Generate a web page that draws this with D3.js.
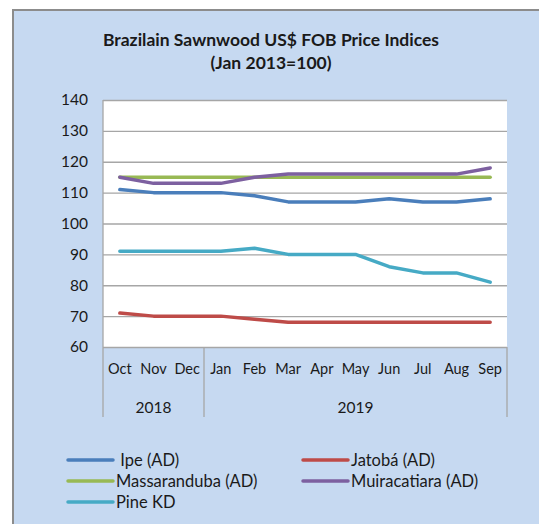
<!DOCTYPE html>
<html lang="en">
<head>
<meta charset="utf-8">
<title>Brazilain Sawnwood US$ FOB Price Indices</title>
<script src="https://cdnjs.cloudflare.com/ajax/libs/d3/7.7.0/d3.min.js"></script>
<style>
  body { margin: 0; background: #fff; }
  svg text { font-family: Lato, "Open Sans", sans-serif; fill: #1a1a1a; }
</style>
</head>
<body>
<div id="chart"></div>
<script>
// data
const months = ["Oct", "Nov", "Dec", "Jan", "Feb", "Mar", "Apr", "May", "Jun", "Jul", "Aug", "Sep"];
const years = [{ label: "2018", from: 0, to: 3 }, { label: "2019", from: 3, to: 12 }];
const ipe = [111, 110, 110, 110, 109, 107, 107, 107, 108, 107, 107, 108];
const jatoba = [71, 70, 70, 70, 69, 68, 68, 68, 68, 68, 68, 68];
const massaranduba = [115, 115, 115, 115, 115, 115, 115, 115, 115, 115, 115, 115];
const muiracatiara = [115, 113, 113, 113, 115, 116, 116, 116, 116, 116, 116, 118];
const pineKD = [91, 91, 91, 91, 92, 90, 90, 90, 86, 84, 84, 81];
const yTicks = [60, 70, 80, 90, 100, 110, 120, 130, 140];

const series = [
  { name: " Ipe (AD)", values: ipe, color: "#4a7ebb" },
  { name: "Jatobá (AD)", values: jatoba, color: "#be4b48" },
  { name: "Massaranduba (AD)", values: massaranduba, color: "#98b954" },
  { name: "Muiracatiara (AD)", values: muiracatiara, color: "#7d60a0" },
  { name: "Pine KD", values: pineKD, color: "#46aac5" }
];
// draw order: Massaranduba under Muiracatiara
const drawOrder = [2, 3, 0, 1, 4];

const W = 539, H = 524;
const svg = d3.select("#chart").append("svg").attr("width", W).attr("height", H);

// chart frame
svg.append("rect").attr("x", 13).attr("y", 10).attr("width", W).attr("height", H)
  .attr("fill", "#c6d9f1").attr("stroke", "#8c8c8c").attr("stroke-width", 2);

const plot = { left: 103, right: 507, top: 100, bottom: 347 };

const x = d3.scaleBand().domain(months.map((m, i) => i)).range([plot.left, plot.right]);
const y = d3.scaleLinear().domain([60, 140]).range([plot.bottom, plot.top]);

svg.append("rect").attr("x", plot.left).attr("y", plot.top)
  .attr("width", plot.right - plot.left).attr("height", plot.bottom - plot.top)
  .attr("fill", "#fff");

// title
svg.append("text").attr("x", 271).attr("y", 46).attr("text-anchor", "middle")
  .attr("font-size", 17.5).attr("font-weight", "bold")
  .text("Brazilain Sawnwood US$ FOB Price Indices");
svg.append("text").attr("x", 271).attr("y", 69).attr("text-anchor", "middle")
  .attr("font-size", 17.5).attr("font-weight", "bold")
  .text("(Jan 2013=100)");

// y axis with gridlines
const yAxis = svg.append("g").attr("transform", `translate(${plot.left},0)`)
  .call(d3.axisLeft(y).tickValues(yTicks).tickSize(-(plot.right - plot.left)).tickPadding(15));
yAxis.select(".domain").remove();
yAxis.selectAll(".tick line").attr("stroke", "#a6a6a6").attr("stroke-width", 1.3);
yAxis.selectAll(".tick text").attr("font-size", 15.5).attr("font-family", "Lato, sans-serif").attr("fill", "#1a1a1a");

// plot border on the left
svg.append("line").attr("x1", plot.left).attr("x2", plot.left)
  .attr("y1", plot.top).attr("y2", plot.bottom).attr("stroke", "#a6a6a6").attr("stroke-width", 1.3);

// multi-level category axis
const xAxis = svg.append("g").attr("transform", `translate(0,${plot.bottom})`)
  .call(d3.axisBottom(x).tickSize(0).tickPadding(17).tickFormat(i => months[i]));
xAxis.select(".domain").remove();
xAxis.selectAll(".tick text").attr("font-size", 14.5).attr("font-family", "Lato, sans-serif").attr("fill", "#1a1a1a");

const sepX = [0, 3, 12].map(i => i < 12 ? x(i) : plot.right);
svg.selectAll(".sep").data(sepX).enter().append("line")
  .attr("x1", d => d).attr("x2", d => d)
  .attr("y1", plot.bottom).attr("y2", 417)
  .attr("stroke", "#a6a6a6").attr("stroke-width", 1.3);

svg.selectAll(".year").data(years).enter().append("text")
  .attr("x", d => (x(d.from) + (d.to < 12 ? x(d.to) : plot.right)) / 2)
  .attr("y", 413).attr("text-anchor", "middle").attr("font-size", 15.5)
  .text(d => d.label);

// lines
const line = d3.line().x((d, i) => x(i) + x.bandwidth() / 2).y(d => y(d));
svg.selectAll(".series").data(drawOrder.map(i => series[i])).enter().append("path")
  .attr("d", d => line(d.values))
  .attr("fill", "none").attr("stroke", d => d.color)
  .attr("stroke-width", 3.5).attr("stroke-linecap", "round").attr("stroke-linejoin", "round");

// legend
const legendPos = [[68, 460], [303, 460], [68, 481], [303, 481], [68, 502]];
const lg = svg.selectAll(".legend").data(series).enter().append("g")
  .attr("transform", (d, i) => `translate(${legendPos[i][0]},${legendPos[i][1]})`);
lg.append("line").attr("x1", 0).attr("x2", 45).attr("y1", 0).attr("y2", 0)
  .attr("stroke", d => d.color).attr("stroke-width", 3.5).attr("stroke-linecap", "round");
lg.append("text").attr("x", 48).attr("y", 6).attr("font-size", 16.5)
  .attr("xml:space", "preserve").style("white-space", "pre").text(d => d.name);
</script>
</body>
</html>
